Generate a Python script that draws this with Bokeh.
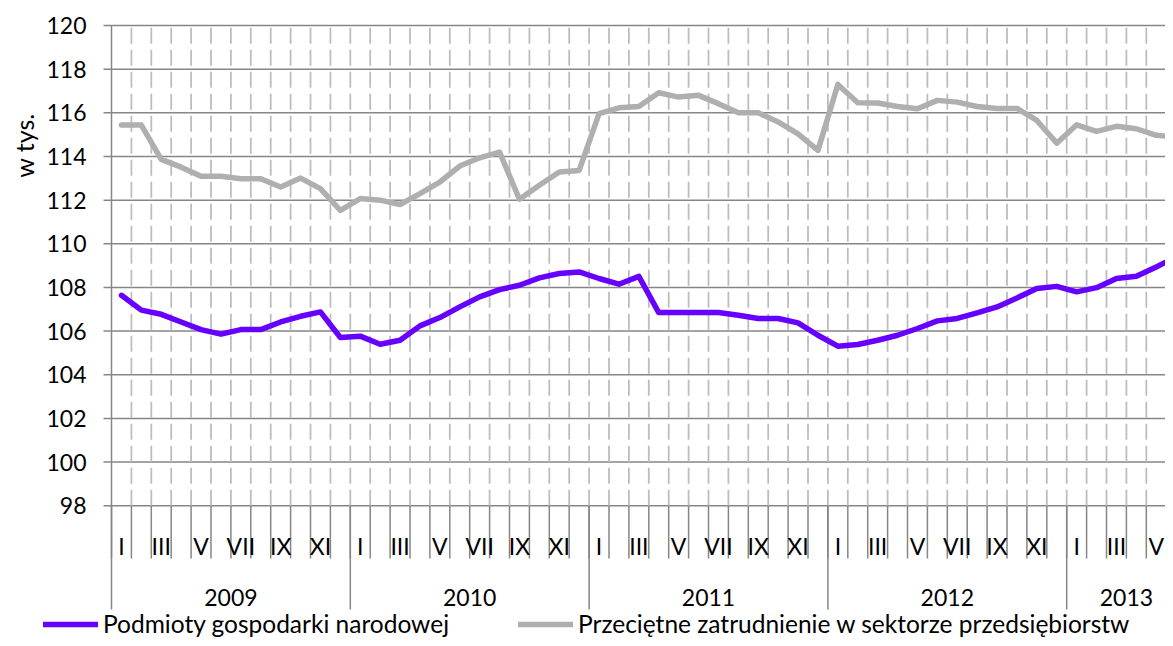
import math
from bokeh.plotting import figure
from bokeh.models import Range1d, Legend, LegendItem
from bokeh.core.properties import value
from bokeh.embed import file_html
from bokeh.resources import INLINE

# ---------------- data ----------------
years = ["2009", "2010", "2011", "2012", "2013"]
months_per_year = [12, 12, 12, 12, 6]
month_labels = ["I", "", "III", "", "V", "", "VII", "", "IX", "", "XI", ""]

podmioty = [
    107.64, 106.96, 106.77, 106.42, 106.07, 105.86, 106.07, 106.07, 106.42, 106.68, 106.88, 105.71,
    105.77, 105.40, 105.58, 106.24, 106.62, 107.11, 107.57, 107.90, 108.10, 108.44, 108.64, 108.71,
    108.41, 108.15, 108.51, 106.85, 106.85, 106.85, 106.85, 106.73, 106.58, 106.58, 106.38, 105.81,
    105.31, 105.39, 105.58, 105.81, 106.12, 106.47, 106.58, 106.84, 107.11, 107.52, 107.95, 108.05,
    107.80, 107.99, 108.41, 108.51, 108.94, 109.40,
]
zatrudnienie = [
    115.44, 115.44, 113.87, 113.51, 113.09, 113.09, 112.98, 112.98, 112.60, 113.01, 112.53, 111.53,
    112.07, 112.00, 111.80, 112.30, 112.83, 113.56, 113.94, 114.20, 112.04, 112.68, 113.29, 113.36,
    115.96, 116.23, 116.29, 116.92, 116.72, 116.80, 116.42, 116.00, 116.00, 115.58, 115.04, 114.28,
    117.30, 116.46, 116.45, 116.29, 116.19, 116.57, 116.49, 116.29, 116.20, 116.20, 115.65, 114.61,
    115.45, 115.15, 115.38, 115.27, 114.97, 114.90,
]
y_ticks = [98, 100, 102, 104, 106, 108, 110, 112, 114, 116, 118, 120]
y_tick_labels = [str(t) for t in y_ticks]
y_title = "w tys."

label_podmioty = "Podmioty gospodarki narodowej"
label_zatrudnienie = "Przeciętne zatrudnienie w sektorze przedsiębiorstw"

# ---------------- style / layout ----------------
FONT = "Lato"
FS = "23px"
GRID = "#868686"
W, H = 1165, 638
LEFT_PX, MONTH_PX = 111.0, 19.9
TOP_PX, UNIT_PX = 25.0, 21.83

x_start = -LEFT_PX / MONTH_PX
x_end = (W - LEFT_PX) / MONTH_PX
y_top = 120 + TOP_PX / UNIT_PX
y_bottom = 120 - (H - TOP_PX) / UNIT_PX

def yv(py):
    return 120 - (py - TOP_PX) / UNIT_PX

def xv(px):
    return (px - LEFT_PX) / MONTH_PX

y_min_axis = 98
month_tick_bottom = yv(558)
year_tick_bottom = yv(609)
month_label_y = yv(545)
year_label_y = yv(597)

n = len(podmioty)
xs = [i + 0.5 for i in range(n)]
total = sum(months_per_year)

p = figure(width=W, height=H, output_backend="svg", toolbar_location=None,
           x_axis_type=None, y_axis_type=None,
           x_range=Range1d(x_start, x_end), y_range=Range1d(y_bottom, y_top),
           min_border=0)
p.outline_line_color = None
p.background_fill_color = "white"
p.grid.visible = False

# horizontal gridlines (with outside tick marks)
tick_x0 = xv(LEFT_PX - 8)
p.segment(x0=[tick_x0] * len(y_ticks), y0=y_ticks, x1=[total + 1] * len(y_ticks), y1=y_ticks,
          line_color=GRID, line_width=1.5)

# y tick labels
p.text(x=[xv(86)] * len(y_ticks), y=y_ticks, text=y_tick_labels, text_font=value(FONT),
       text_font_size=FS, text_align="right", text_baseline="middle", text_color="black")

# y title
p.text(x=[xv(23)], y=[yv(145)], text=[y_title], angle=math.pi / 2, text_font=value(FONT),
       text_font_size="25px", text_align="center", text_baseline="middle", text_color="black")

# dashed month boundaries inside plot
inner = list(range(1, total + 1))
p.segment(x0=inner, y0=[y_min_axis] * len(inner), x1=inner, y1=[120] * len(inner),
          line_color="#BDBDBD", line_width=1.8, line_dash="16 6")

# month tick lines below axis
bounds = list(range(0, total + 1))
p.segment(x0=bounds, y0=[y_min_axis] * len(bounds), x1=bounds,
          y1=[month_tick_bottom] * len(bounds), line_color=GRID, line_width=1.5)

# year separators
year_starts = []
acc = 0
for m in months_per_year:
    year_starts.append(acc)
    acc += m
p.segment(x0=year_starts, y0=[y_min_axis] * len(year_starts), x1=year_starts,
          y1=[year_tick_bottom] * len(year_starts), line_color=GRID, line_width=1.5)
# left axis line
p.segment(x0=[0], y0=[y_min_axis], x1=[0], y1=[120], line_color=GRID, line_width=1.5)

# month labels
mx, mt = [], []
for ys, m in zip(year_starts, months_per_year):
    for k in range(m):
        if month_labels[k]:
            mx.append(ys + k + 0.5)
            mt.append(month_labels[k])
p.text(x=mx, y=[month_label_y] * len(mx), text=mt, text_font=value(FONT),
       text_font_size=FS, text_align="center", text_baseline="middle", text_color="black")

# year labels
yx = [ys + m / 2 for ys, m in zip(year_starts, months_per_year)]
p.text(x=yx, y=[year_label_y] * len(yx), text=years, text_font=value(FONT),
       text_font_size=FS, text_align="center", text_baseline="middle", text_color="black")

# data lines
r_gray = p.line(xs, zatrudnienie, line_color="#AFAFAF", line_width=5.5,
                line_join="round", line_cap="round")
r_purple = p.line(xs, podmioty, line_color="#6600FF", line_width=5.5,
                  line_join="round", line_cap="round")

legend = Legend(items=[LegendItem(label=label_podmioty, renderers=[r_purple]),
                       LegendItem(label=label_zatrudnienie, renderers=[r_gray])],
                location=(43, 0), orientation="horizontal",
                glyph_width=55, glyph_height=20, label_standoff=5, spacing=0,
                padding=0, margin=0, label_width=415,
                label_text_font=FONT, label_text_font_size="24.5px",
                label_text_color="black",
                border_line_color=None, background_fill_alpha=0)
p.add_layout(legend)

open("out.html", "w").write(file_html(p, INLINE))
